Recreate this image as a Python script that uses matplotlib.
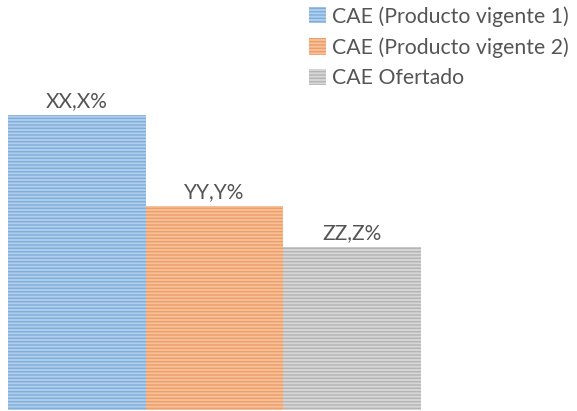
import matplotlib.pyplot as plt
from matplotlib.patches import Patch

series = ['CAE (Producto vigente 1)', 'CAE (Producto vigente 2)', 'CAE Ofertado']
values = [29.5, 20.4, 16.3]
labels = ['XX,X%', 'YY,Y%', 'ZZ,Z%']

fills = ['#b0cdea', '#f5c09a', '#d6d6d6']
lines = ['#7eaedc', '#ef9d66', '#b4b4b4']

plt.rcParams['font.family'] = ['Lato', 'DejaVu Sans']
plt.rcParams['hatch.linewidth'] = 1.0

fig = plt.figure(figsize=(5.77, 4.11), dpi=100)
ax = fig.add_axes([8/577, 1/411, 413/577, 410/411])

x = range(len(values))
bars = ax.bar(x, values, width=1.0, color=fills, edgecolor=lines, linewidth=0, hatch='-----')
for i, b in enumerate(bars):
    ax.text(b.get_x() + b.get_width()/2, values[i] + 0.4, labels[i], ha='center', va='bottom',
            fontsize=15, color='#555555')

ax.set_xlim(-0.5, 2.5)
ax.set_ylim(0, 41.0)
ax.axis('off')

handles = [Patch(facecolor=fills[i], edgecolor=lines[i], linewidth=0, hatch='-----') for i in range(3)]
fig.legend(handles, series, loc='upper left', bbox_to_anchor=(309/577, 1-6/411), frameon=False,
           fontsize=15.3, labelcolor='#555555', borderpad=0, borderaxespad=0,
           handlelength=0.8, handleheight=0.8, handletextpad=0.3, labelspacing=0.5)

fig.savefig('out.png', dpi=100)
